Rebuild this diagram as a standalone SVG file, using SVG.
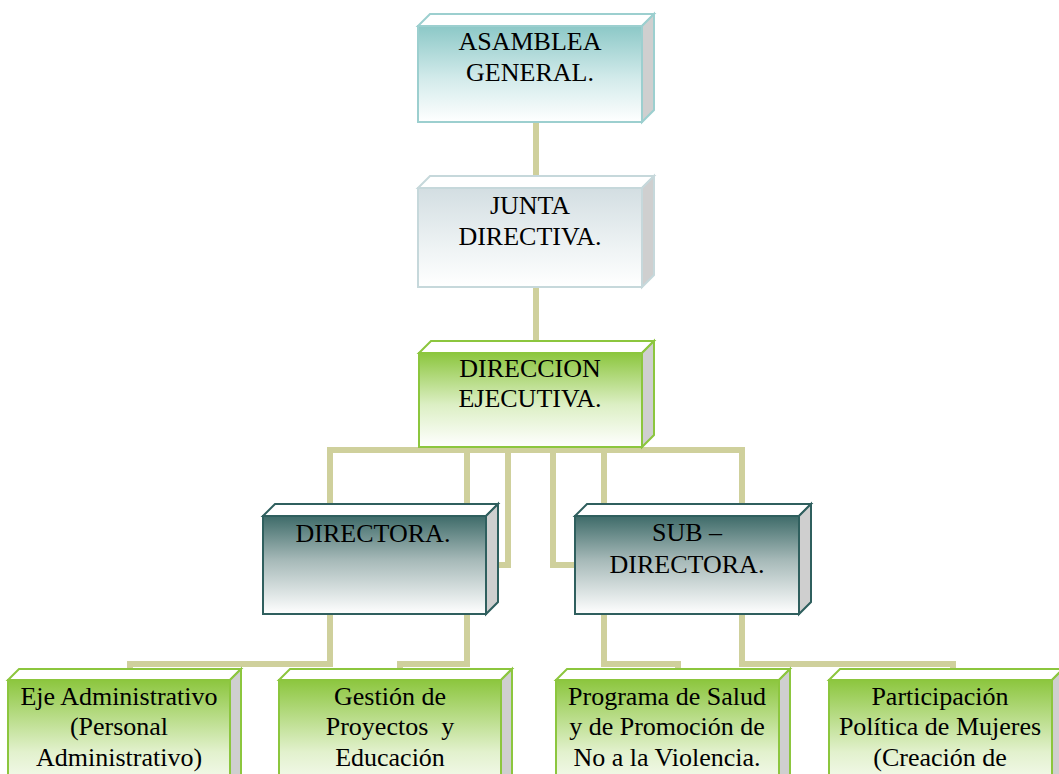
<svg xmlns="http://www.w3.org/2000/svg" width="1059" height="774" viewBox="0 0 1059 774" font-family="'Liberation Serif', 'Times New Roman', Times, serif">
<defs>
<linearGradient id="gTeal" x1="0" y1="0" x2="0" y2="1"><stop offset="0" stop-color="#8cc8c7"/><stop offset="0.55" stop-color="#d3ebeb"/><stop offset="1" stop-color="#ffffff"/></linearGradient>
<linearGradient id="gGrey" x1="0" y1="0" x2="0" y2="1"><stop offset="0" stop-color="#d3dee2"/><stop offset="0.6" stop-color="#eef3f4"/><stop offset="1" stop-color="#ffffff"/></linearGradient>
<linearGradient id="gGreen" x1="0" y1="0" x2="0" y2="1"><stop offset="0" stop-color="#8cc63e"/><stop offset="0.55" stop-color="#dcefc4"/><stop offset="1" stop-color="#ffffff"/></linearGradient>
<linearGradient id="gGreenB" x1="0" y1="0" x2="0" y2="1"><stop offset="0" stop-color="#8cc63e"/><stop offset="0.6" stop-color="#e2f1cd"/><stop offset="1" stop-color="#ffffff"/></linearGradient>
<linearGradient id="gDark" x1="0" y1="0" x2="0" y2="1"><stop offset="0" stop-color="#3e6b69"/><stop offset="0.45" stop-color="#a6b9b8"/><stop offset="1" stop-color="#ffffff"/></linearGradient>
</defs>
<style>
.conn{fill:none;stroke:#cfd09c;stroke-width:6;stroke-linejoin:miter}
.top{fill:#ffffff}
.side{fill:#cfcfcf}
.teal{stroke:#9ccfcf;stroke-width:2}
.grey{stroke:#c6d8db;stroke-width:2}
.green{stroke:#8cc63e;stroke-width:2}
.dark{stroke:#2f5f5e;stroke-width:2}
.t{font-family:"Liberation Serif","Times New Roman",Times,serif;font-size:26px;fill:#000;text-anchor:middle}
</style>
<g id="connectors">
<path class="conn" d="M536 122 V180"/>
<path class="conn" d="M536 287 V345"/>
<path class="conn" d="M330 512 V450 H742 V512"/>
<path class="conn" d="M467 447 V530"/>
<path class="conn" d="M508 447 V565 H492"/>
<path class="conn" d="M553 447 V565 H580"/>
<path class="conn" d="M604 447 V530"/>
<path class="conn" d="M330 612 V664 H130 V676"/>
<path class="conn" d="M467 612 V664 H400 V676"/>
<path class="conn" d="M604 612 V664 H678 V676"/>
<path class="conn" d="M742 612 V664 H953 V676"/>
</g>
<g id="asamblea">
<polygon class="top teal" points="418,26 430,14 654,14 642,26"/>
<polygon class="side teal" points="642,26 654,14 654,110 642,122"/>
<rect class="teal" x="418" y="26" width="224" height="96" fill="url(#gTeal)"/>
<text class="t" x="530" y="50">ASAMBLEA</text>
<text class="t" x="530" y="81">GENERAL.</text>
</g>
<g id="junta">
<polygon class="top grey" points="418,188 430,176 654,176 642,188"/>
<polygon class="side grey" points="642,188 654,176 654,275 642,287"/>
<rect class="grey" x="418" y="188" width="224" height="99" fill="url(#gGrey)"/>
<text class="t" x="530" y="214">JUNTA</text>
<text class="t" x="530" y="245">DIRECTIVA.</text>
</g>
<g id="direccion">
<polygon class="top green" points="419,353 431,341 654,341 642,353"/>
<polygon class="side green" points="642,353 654,341 654,435 642,447"/>
<rect class="green" x="419" y="353" width="223" height="94" fill="url(#gGreen)"/>
<text class="t" x="530" y="377">DIRECCION</text>
<text class="t" x="530" y="407">EJECUTIVA.</text>
</g>
<g id="directora">
<polygon class="top dark" points="263,516 275,504 498,504 486,516"/>
<polygon class="side dark" points="486,516 498,504 498,602 486,614"/>
<rect class="dark" x="263" y="516" width="223" height="98" fill="url(#gDark)"/>
<text class="t" x="373" y="542">DIRECTORA.</text>
</g>
<g id="subdirectora">
<polygon class="top dark" points="575,516 587,504 811,504 799,516"/>
<polygon class="side dark" points="799,516 811,504 811,602 799,614"/>
<rect class="dark" x="575" y="516" width="224" height="98" fill="url(#gDark)"/>
<text class="t" x="687" y="541">SUB –</text>
<text class="t" x="687" y="573">DIRECTORA.</text>
</g>
<g id="eje">
<polygon class="top green" points="8,680 19,669 241,669 230,680"/>
<polygon class="side green" points="230,680 241,669 241,800 230,800"/>
<rect class="green" x="8" y="680" width="222" height="120" fill="url(#gGreenB)"/>
<text class="t" x="119" y="705">Eje Administrativo</text>
<text class="t" x="119" y="735">(Personal</text>
<text class="t" x="119" y="766">Administrativo)</text>
</g>
<g id="gestion">
<polygon class="top green" points="279,680 290,669 512,669 501,680"/>
<polygon class="side green" points="501,680 512,669 512,800 501,800"/>
<rect class="green" x="279" y="680" width="222" height="120" fill="url(#gGreenB)"/>
<text class="t" x="390" y="705">Gestión de</text>
<text class="t" x="390" y="735" xml:space="preserve">Proyectos  y</text>
<text class="t" x="390" y="766">Educación</text>
</g>
<g id="programa">
<polygon class="top green" points="556,680 567,669 790,669 779,680"/>
<polygon class="side green" points="779,680 790,669 790,800 779,800"/>
<rect class="green" x="556" y="680" width="223" height="120" fill="url(#gGreenB)"/>
<text class="t" x="667" y="705">Programa de Salud</text>
<text class="t" x="667" y="735">y de Promoción de</text>
<text class="t" x="667" y="766">No a la Violencia.</text>
</g>
<g id="participacion">
<polygon class="top green" points="829,680 840,669 1063,669 1052,680"/>
<polygon class="side green" points="1052,680 1063,669 1063,800 1052,800"/>
<rect class="green" x="829" y="680" width="223" height="120" fill="url(#gGreenB)"/>
<text class="t" x="940" y="705">Participación</text>
<text class="t" x="940" y="735">Política de Mujeres</text>
<text class="t" x="940" y="766">(Creación de</text>
</g>
</svg>
